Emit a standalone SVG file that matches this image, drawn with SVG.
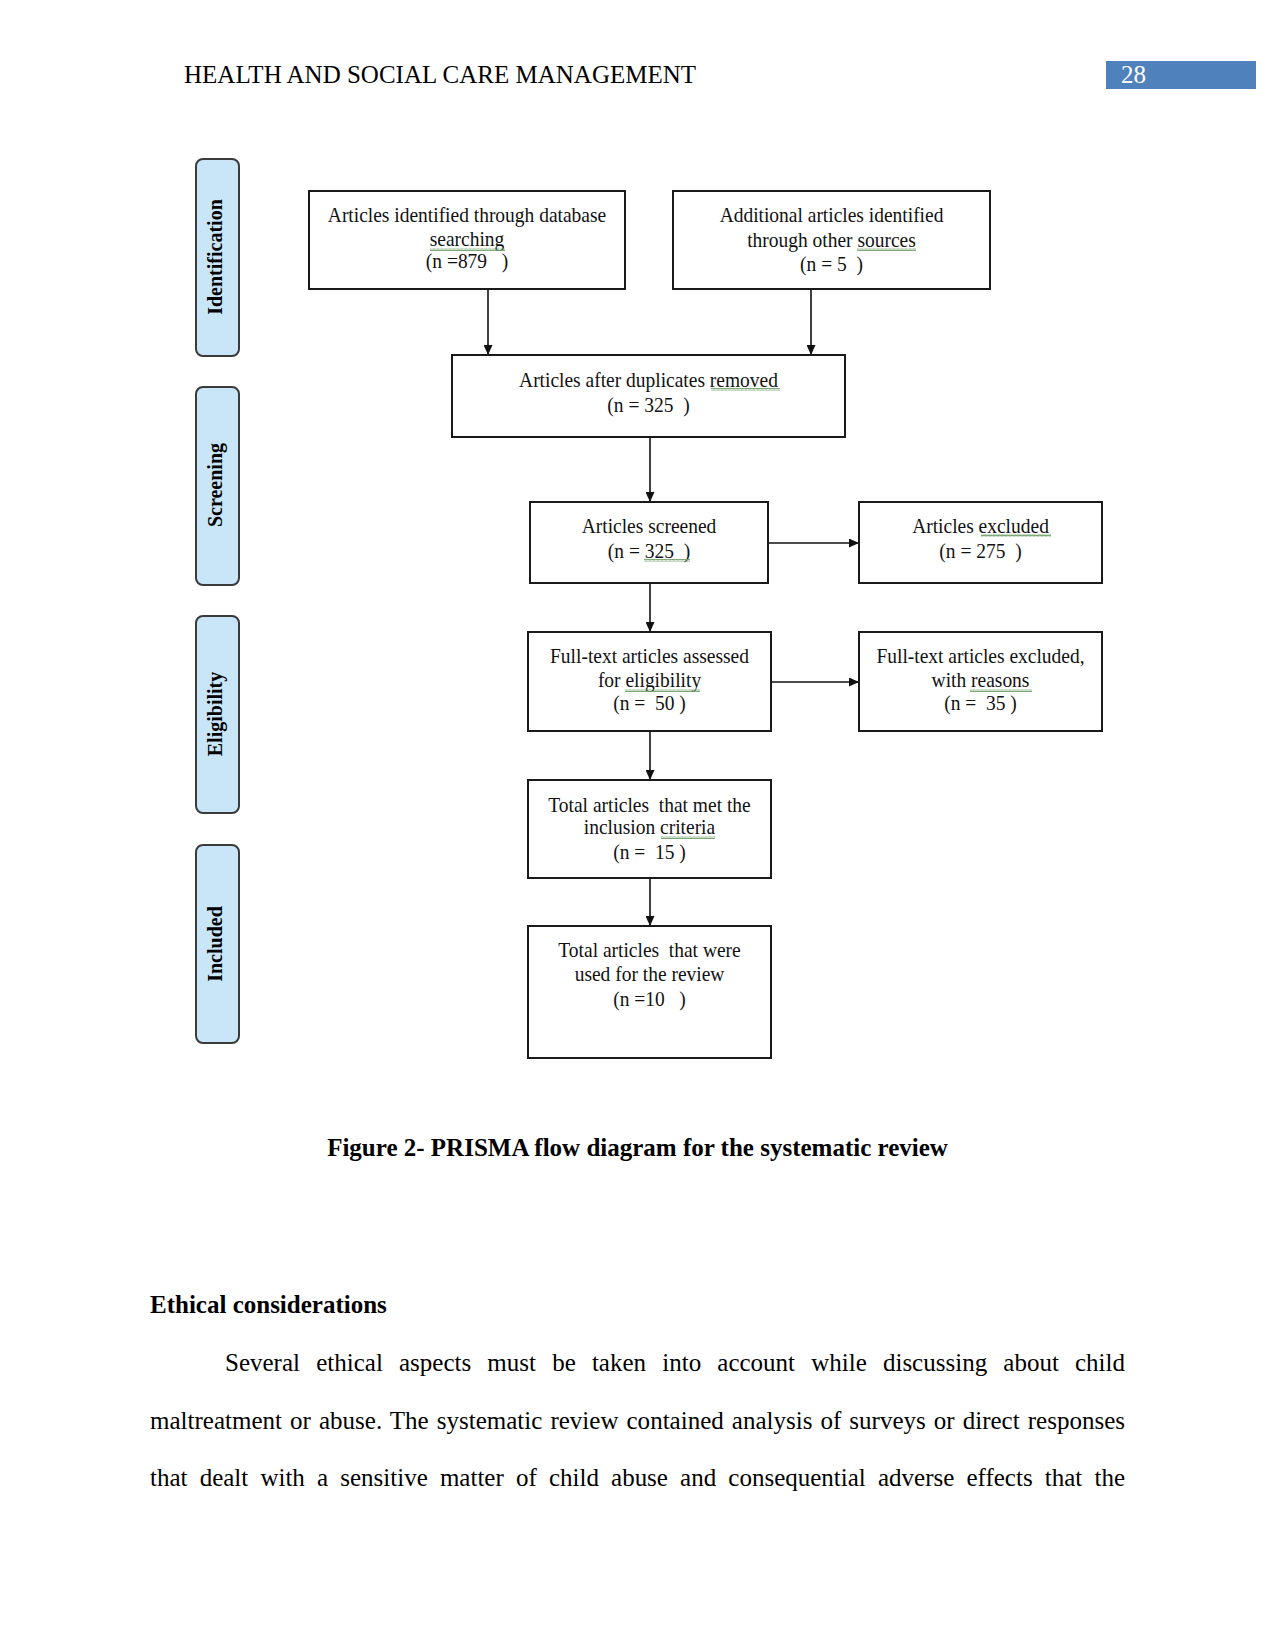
<svg xmlns="http://www.w3.org/2000/svg" width="1275" height="1650" viewBox="0 0 1275 1650">
<style>
.page{font-family:"Liberation Serif","Times New Roman",serif;fill:#000}
.hdr{font-size:25px}
.bold{font-weight:bold}
.box{fill:#fff;stroke:#1a1a1a;stroke-width:2}
.phase{fill:#c9e6f8;stroke:#3a3a3a;stroke-width:2}
.ptxt{font-family:"Liberation Serif","Times New Roman",serif;font-size:20px;font-weight:bold;text-anchor:middle;fill:#000}
.btxt{font-family:"Liberation Serif","Times New Roman",serif;font-size:22px;text-anchor:middle;fill:#111}
.conn{stroke:#111;stroke-width:1.6;fill:none;marker-end:url(#ah)}
.body{font-family:"Liberation Serif","Times New Roman",serif;font-size:25px;fill:#000}
</style>
<defs>
<marker id="ah" markerUnits="userSpaceOnUse" markerWidth="10" markerHeight="9" refX="10" refY="4.5" orient="auto">
<path d="M0,0 L10,4.5 L0,9 z" fill="#111"/>
</marker>
<pattern id="sq" patternUnits="userSpaceOnUse" width="4" height="3">
<path d="M0,2.5 L1,0.5 L2,2.5 L3,0.5 L4,2.5" stroke="#6f9f6a" stroke-width="0.9" fill="none"/>
</pattern>
</defs>
<rect width="1275" height="1650" fill="#fff"/>

<g id="header">
<text class="page hdr" x="184" y="83">HEALTH AND SOCIAL CARE MANAGEMENT</text>
<rect x="1106" y="61" width="150" height="28" fill="#4f81bd"/>
<text x="1121" y="83" font-family="Liberation Serif, serif" font-size="25" fill="#fff">28</text>
</g>

<g id="phases">
<g id="phase-identification">
<rect class="phase" x="196" y="159" width="43" height="197" rx="7"/>
<text class="ptxt" transform="translate(222 257) rotate(-90)">Identification</text>
</g>
<g id="phase-screening">
<rect class="phase" x="196" y="387" width="43" height="198" rx="7"/>
<text class="ptxt" transform="translate(222 485) rotate(-90)">Screening</text>
</g>
<g id="phase-eligibility">
<rect class="phase" x="196" y="616" width="43" height="197" rx="7"/>
<text class="ptxt" transform="translate(222 714) rotate(-90)">Eligibility</text>
</g>
<g id="phase-included">
<rect class="phase" x="196" y="845" width="43" height="198" rx="7"/>
<text class="ptxt" transform="translate(222 944) rotate(-90)">Included</text>
</g>
</g>

<g id="connectors">
<line class="conn" x1="488" y1="290" x2="488" y2="355"/>
<line class="conn" x1="811" y1="290" x2="811" y2="355"/>
<line class="conn" x1="650" y1="438" x2="650" y2="502"/>
<line class="conn" x1="769" y1="543" x2="859" y2="543"/>
<line class="conn" x1="650" y1="584" x2="650" y2="632"/>
<line class="conn" x1="772" y1="682" x2="859" y2="682"/>
<line class="conn" x1="650" y1="732" x2="650" y2="780"/>
<line class="conn" x1="650" y1="879" x2="650" y2="926"/>
</g>

<g id="node-db">
<rect class="box" x="309" y="191" width="316" height="98"/>
<text class="btxt" xml:space="preserve" transform="translate(467 0) scale(0.885 1)"><tspan x="0" y="222">Articles identified through database</tspan><tspan x="0" y="246">searching</tspan><tspan x="0" y="268">(n =879   )</tspan></text>
<rect x="430" y="248" width="75" height="3" fill="url(#sq)"/>
</g>

<g id="node-other">
<rect class="box" x="673" y="191" width="317" height="98"/>
<text class="btxt" xml:space="preserve" transform="translate(831.5 0) scale(0.885 1)"><tspan x="0" y="222">Additional articles identified</tspan><tspan x="0" y="247">through other sources</tspan><tspan x="0" y="271">(n = 5  )</tspan></text>
<rect x="857" y="248" width="59" height="3" fill="url(#sq)"/>
</g>

<g id="node-dedup">
<rect class="box" x="452" y="355" width="393" height="82"/>
<text class="btxt" xml:space="preserve" transform="translate(648.5 0) scale(0.885 1)"><tspan x="0" y="387">Articles after duplicates removed</tspan><tspan x="0" y="412">(n = 325  )</tspan></text>
<rect x="711" y="388" width="69" height="3" fill="url(#sq)"/>
</g>

<g id="node-screened">
<rect class="box" x="530" y="502" width="238" height="81"/>
<text class="btxt" xml:space="preserve" transform="translate(649 0) scale(0.885 1)"><tspan x="0" y="533">Articles screened</tspan><tspan x="0" y="558">(n = 325  )</tspan></text>
<rect x="644" y="559" width="46" height="3" fill="url(#sq)"/>
</g>

<g id="node-excluded">
<rect class="box" x="859" y="502" width="243" height="81"/>
<text class="btxt" xml:space="preserve" transform="translate(980.5 0) scale(0.885 1)"><tspan x="0" y="533">Articles excluded</tspan><tspan x="0" y="558">(n = 275  )</tspan></text>
<rect x="981" y="534" width="70" height="3" fill="url(#sq)"/>
</g>

<g id="node-fulltext">
<rect class="box" x="528" y="632" width="243" height="99"/>
<text class="btxt" xml:space="preserve" transform="translate(649.5 0) scale(0.885 1)"><tspan x="0" y="663">Full-text articles assessed</tspan><tspan x="0" y="687">for eligibility</tspan><tspan x="0" y="710">(n =  50 )</tspan></text>
<rect x="625" y="689" width="75" height="3" fill="url(#sq)"/>
</g>

<g id="node-fulltext-excluded">
<rect class="box" x="859" y="632" width="243" height="99"/>
<text class="btxt" xml:space="preserve" transform="translate(980.5 0) scale(0.885 1)"><tspan x="0" y="663">Full-text articles excluded,</tspan><tspan x="0" y="687">with reasons</tspan><tspan x="0" y="710">(n =  35 )</tspan></text>
<rect x="970" y="689" width="62" height="3" fill="url(#sq)"/>
</g>

<g id="node-criteria">
<rect class="box" x="528" y="780" width="243" height="98"/>
<text class="btxt" xml:space="preserve" transform="translate(649.5 0) scale(0.885 1)"><tspan x="0" y="812">Total articles  that met the</tspan><tspan x="0" y="834">inclusion criteria</tspan><tspan x="0" y="859">(n =  15 )</tspan></text>
<rect x="661" y="836" width="54" height="3" fill="url(#sq)"/>
</g>

<g id="node-review">
<rect class="box" x="528" y="926" width="243" height="132"/>
<text class="btxt" xml:space="preserve" transform="translate(649.5 0) scale(0.885 1)"><tspan x="0" y="957">Total articles  that were</tspan><tspan x="0" y="981">used for the review</tspan><tspan x="0" y="1006">(n =10   )</tspan></text>
</g>

<g id="caption">
<text class="page bold" font-size="25" x="637.5" y="1156" text-anchor="middle">Figure 2- PRISMA flow diagram for the systematic review</text>
</g>

<g id="bodytext">
<text class="body bold" x="150" y="1313">Ethical considerations</text>
<text class="body" x="225" y="1371" word-spacing="9.9" textLength="900" lengthAdjust="spacing">Several ethical aspects must be taken into account while discussing about child</text>
<text class="body" x="150" y="1428.5" word-spacing="1.8" textLength="975" lengthAdjust="spacing">maltreatment or abuse. The systematic review contained analysis of surveys or direct responses</text>
<text class="body" x="150" y="1486" word-spacing="5.9" textLength="975" lengthAdjust="spacing">that dealt with a sensitive matter of child abuse and consequential adverse effects that the</text>
</g>
</svg>
